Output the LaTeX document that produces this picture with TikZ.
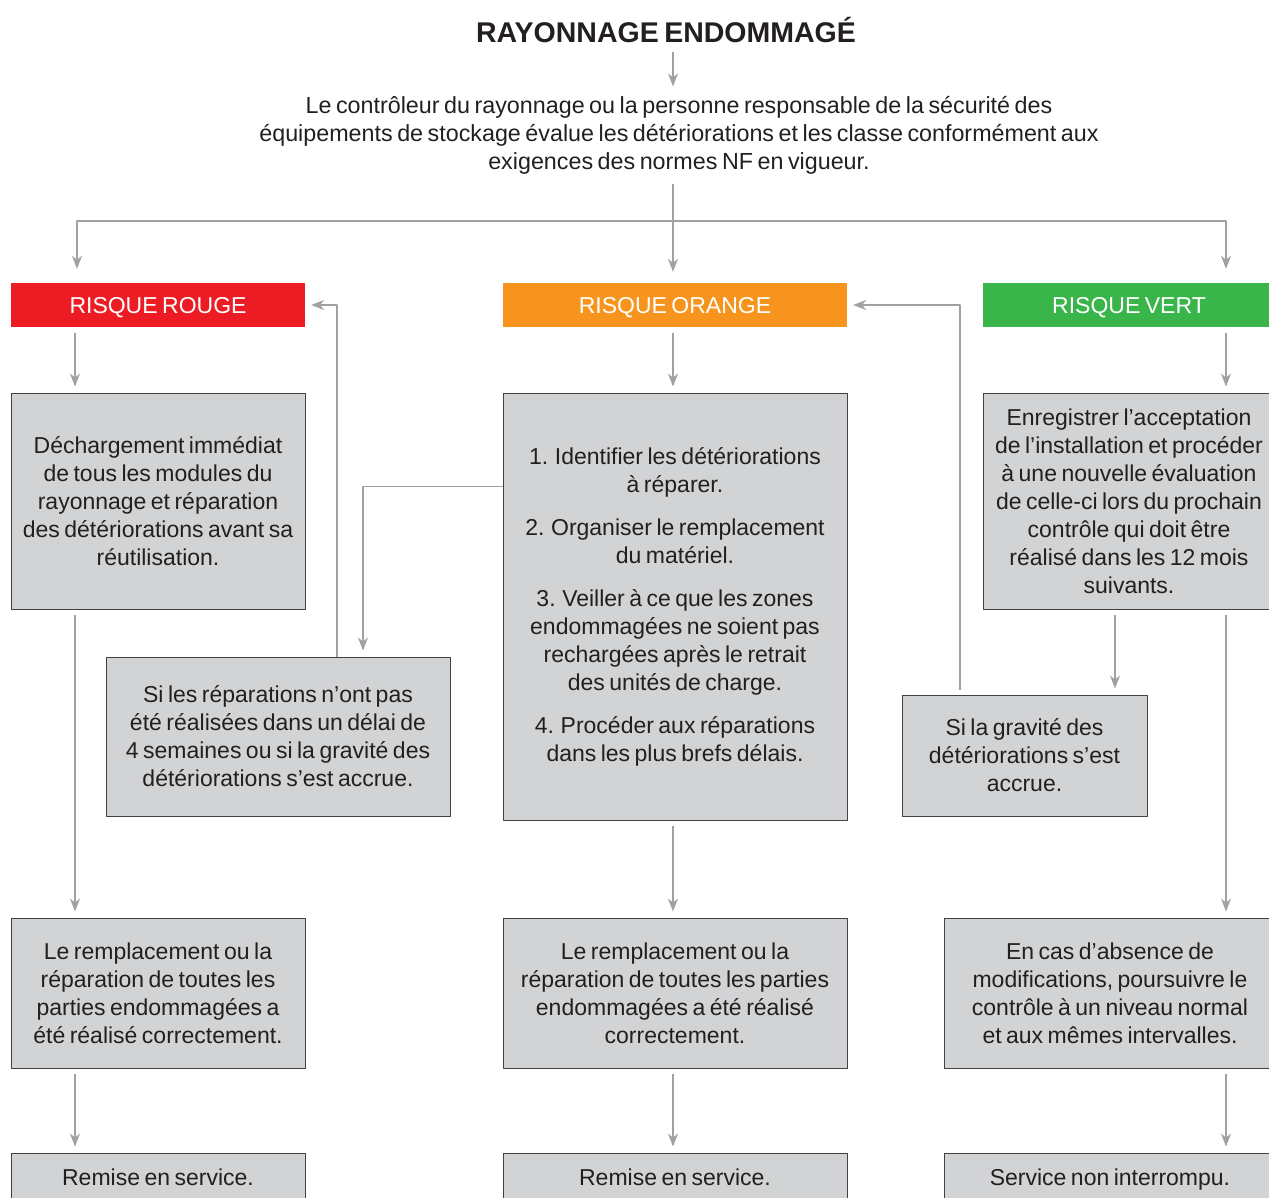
\documentclass[tikz,border=0pt]{standalone}
\usepackage{fontspec}
\setmainfont{Liberation Sans}[WordSpace=0.7]
\usetikzlibrary{arrows.meta}
\definecolor{cRouge}{HTML}{ED1C24}
\definecolor{cOrange}{HTML}{F7941D}
\definecolor{cVert}{HTML}{39B54A}
\definecolor{cGris}{HTML}{D1D3D4}
\definecolor{cBord}{HTML}{414042}
\definecolor{cFleche}{HTML}{9FA1A4}
\definecolor{cTexte}{HTML}{231F20}
\newcommand{\corps}{\fontsize{23}{28}\selectfont}
\begin{document}
\begin{tikzpicture}[x=1pt,y=-1pt,>={Stealth[length=13pt,width=10pt,inset=4pt]},line join=round,
	boite/.style={draw=cBord,fill=cGris,line width=0.9pt,align=center,inner sep=0pt,font=\corps,text=cTexte},
	risque/.style={align=center,inner sep=0pt,minimum height=44pt,text height=16.5pt,text depth=0pt,font=\corps,text=white},
	fleche/.style={->,draw=cFleche,line width=1.3pt,shorten <=6pt,shorten >=6pt}]
	\useasboundingbox (0,0) rectangle (1269,1198);
	\clip (0,0) rectangle (1269,1198);
	% colonnes des fleches
	\coordinate (axe) at (673,221);
	\coordinate (colR) at (75,0);
	\coordinate (colV) at (1226,0);
	\coordinate (retR) at (337,0);
	\coordinate (descR) at (363,0);
	\coordinate (retO) at (960,0);
	\coordinate (descV) at (1115,0);
	% en-tete
	\node[font=\bfseries\fontsize{28.5}{33}\selectfont,text=cTexte] (titre) at (666,30) {RAYONNAGE ENDOMMAGÉ};
	\node[font=\fontsize{23.3}{28}\selectfont,align=center,text=cTexte] (eval) at (679,135) {Le contrôleur du rayonnage ou la personne responsable de la sécurité des\\équipements de stockage évalue les détériorations et les classe conformément aux\\exigences des normes NF en vigueur.};
	% niveaux de risque
	\node[risque,fill=cRouge,minimum width=294pt] (rouge) at (158,305) {RISQUE ROUGE};
	\node[risque,fill=cOrange,minimum width=344pt] (orange) at (675,305) {RISQUE ORANGE};
	\node[risque,fill=cVert,minimum width=292pt] (vert) at (1129,305) {RISQUE VERT};
	% actions
	\node[boite,minimum width=294pt,minimum height=216pt] (detR) at (158,501) {Déchargement immédiat\\de tous les modules du\\rayonnage et réparation\\des détériorations avant sa\\réutilisation.};
	\node[boite,minimum width=344pt,minimum height=427pt] (detO) at (675,606.5) {1. Identifier les détériorations\\à réparer.\\[15pt]2. Organiser le remplacement\\du matériel.\\[15pt]3. Veiller à ce que les zones\\endommagées ne soient pas\\rechargées après le retrait\\des unités de charge.\\[15pt]4. Procéder aux réparations\\dans les plus brefs délais.};
	\node[boite,minimum width=292pt,minimum height=216pt] (detV) at (1129,501) {Enregistrer l’acceptation\\de l’installation et procéder\\à une nouvelle évaluation\\de celle-ci lors du prochain\\contrôle qui doit être\\réalisé dans les 12 mois\\suivants.};
	\node[boite,minimum width=344pt,minimum height=159pt] (siRep) at (278,736.5) {Si les réparations n’ont pas\\été réalisées dans un délai de\\4 semaines ou si la gravité des\\détériorations s’est accrue.};
	\node[boite,minimum width=245pt,minimum height=121pt] (siGrav) at (1024.5,755.5) {Si la gravité des\\détériorations s’est\\accrue.};
	\node[boite,minimum width=294pt,minimum height=150pt] (finR) at (158,993) {Le remplacement ou la\\réparation de toutes les\\parties endommagées a\\été réalisé correctement.};
	\node[boite,minimum width=344pt,minimum height=150pt] (finO) at (675,993) {Le remplacement ou la\\réparation de toutes les parties\\endommagées a été réalisé\\correctement.};
	\node[boite,minimum width=332pt,minimum height=150pt] (finV) at (1110,993) {En cas d’absence de\\modifications, poursuivre le\\contrôle à un niveau normal\\et aux mêmes intervalles.};
	\node[boite,text height=17pt,text depth=5pt,minimum width=294pt,minimum height=52pt] (servR) at (158,1179) {Remise en service.};
	\node[boite,text height=17pt,text depth=5pt,minimum width=344pt,minimum height=52pt] (servO) at (675,1179) {Remise en service.};
	\node[boite,text height=17pt,text depth=5pt,minimum width=332pt,minimum height=52pt] (servV) at (1110,1179) {Service non interrompu.};
	% fleches principales
	\draw[fleche] (titre.south -| axe) -- (eval.north -| axe);
	\draw[fleche,shorten >=11pt] (eval.south -| axe) -- (orange.north -| axe);
	\draw[fleche,shorten <=0pt,shorten >=14pt] (axe) -| ([xshift=2pt]rouge.north -| colR);
	\draw[fleche,shorten <=0pt,shorten >=14pt] (axe) -| (vert.north -| colV);
	\draw[fleche] (rouge.south -| colR) -- (detR.north -| colR);
	\draw[fleche] (orange.south -| axe) -- (detO.north -| axe);
	\draw[fleche] (vert.south -| colV) -- (detV.north -| colV);
	\draw[fleche] (detR.south -| colR) -- (finR.north -| colR);
	\draw[fleche] (detO.south -| axe) -- (finO.north -| axe);
	\draw[fleche] (detV.south -| colV) -- (finV.north -| colV);
	\draw[fleche] (finR.south -| colR) -- (servR.north -| colR);
	\draw[fleche] (finO.south -| axe) -- (servO.north -| axe);
	\draw[fleche] (finV.south -| colV) -- (servV.north -| colV);
	% retours
	\draw[fleche] (detV.south -| descV) -- (siGrav.north -| descV);
	\draw[fleche,shorten <=5pt] (siGrav.north -| retO) |- (orange.east);
	\draw[fleche,shorten <=0pt] (siRep.north -| retR) |- (rouge.east);
	\draw[fleche,shorten <=0pt] ([yshift=-94pt]detO.north west) -| (siRep.north -| descR);
\end{tikzpicture}
\end{document}
